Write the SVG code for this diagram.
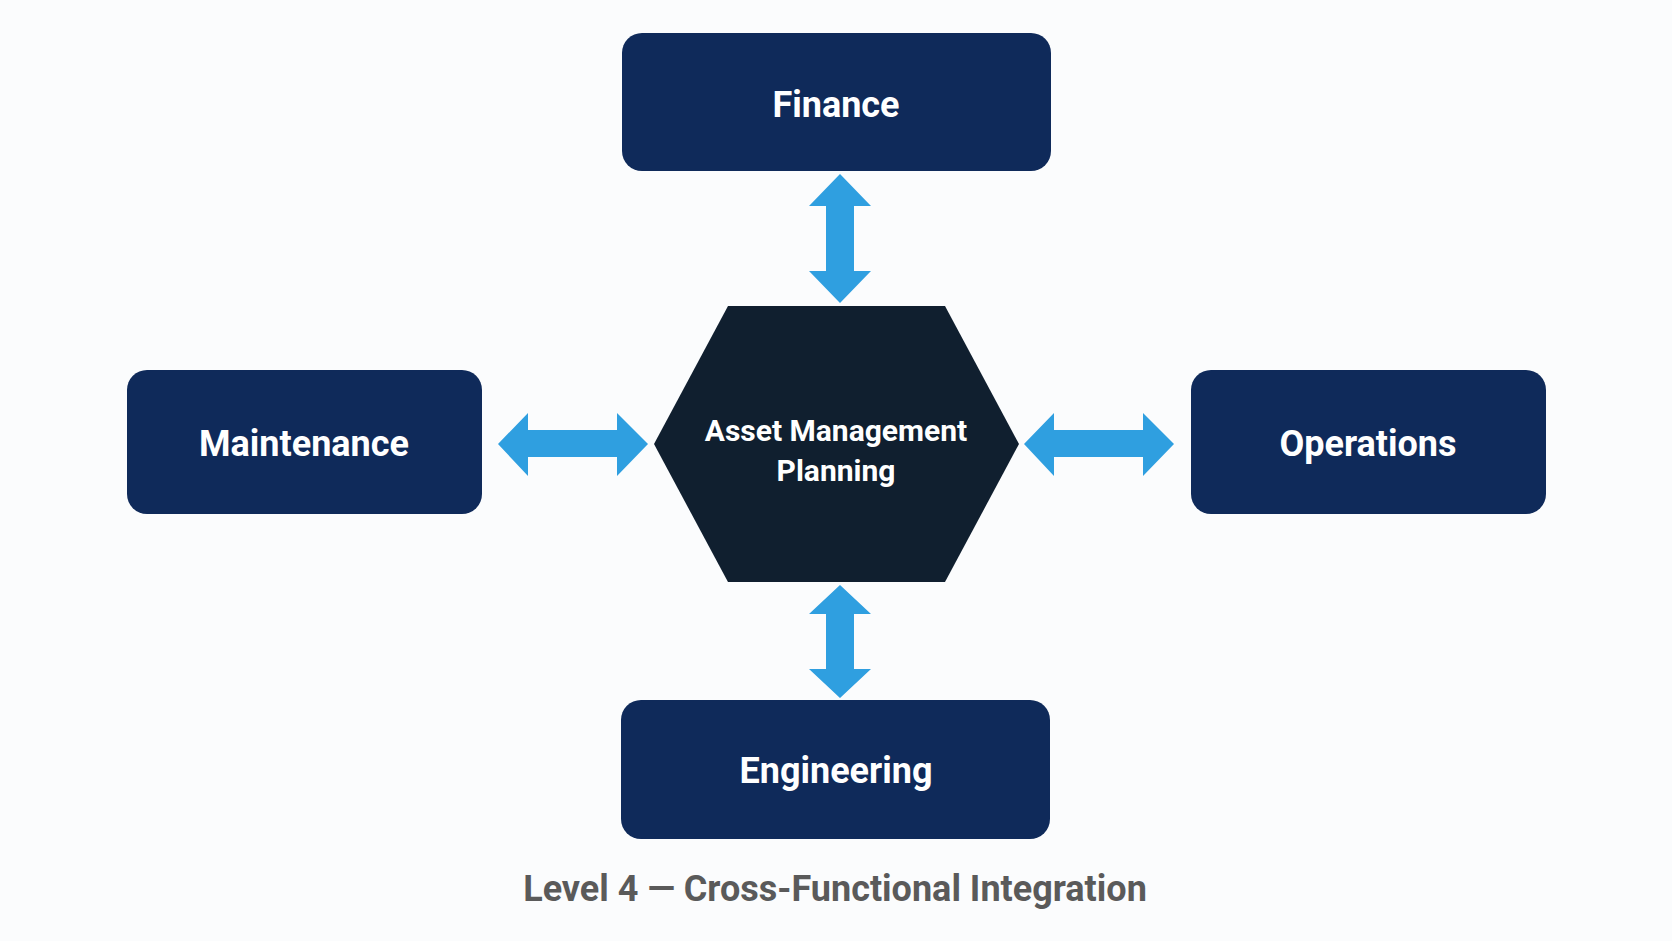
<svg xmlns="http://www.w3.org/2000/svg" width="1672" height="941" viewBox="0 0 1672 941">
<defs>
<style>
.box{fill:#0f2a5a;}
.hex{fill:#101f2f;}
.arr{fill:#2f9fe0;}
.lbl{font-family:Roboto,"Liberation Sans",sans-serif;font-weight:700;fill:#ffffff;text-anchor:middle;}
.big{font-size:36px;}
.mid{font-size:30px;}
.cap{font-family:Roboto,"Liberation Sans",sans-serif;font-weight:700;font-size:36px;fill:#5a5a5a;text-anchor:middle;}
</style>
</defs>
<rect width="1672" height="941" fill="#fbfcfd"/>
<g id="connectors">
<polygon class="arr" points="840,174 871,206 854,206 854,271 871,271 840,303 809,271 826,271 826,206 809,206"/>
<polygon class="arr" points="840,585 871,614 854,614 854,669 871,669 840,698 809,669 826,669 826,614 809,614"/>
<polygon class="arr" points="498,444 528,413 528,430 617,430 617,413 648,444 617,476 617,457 528,457 528,476"/>
<polygon class="arr" points="1024,444 1054,413 1054,430 1143,430 1143,413 1174,444 1143,476 1143,457 1054,457 1054,476"/>
</g>
<g id="finance">
<rect class="box" x="622" y="33" width="429" height="138" rx="20"/>
<text class="lbl big" x="836" y="117">Finance</text>
</g>
<g id="maintenance">
<rect class="box" x="127" y="370" width="355" height="144" rx="20"/>
<text class="lbl big" x="304" y="456">Maintenance</text>
</g>
<g id="operations">
<rect class="box" x="1191" y="370" width="355" height="144" rx="20"/>
<text class="lbl big" x="1368" y="456">Operations</text>
</g>
<g id="engineering">
<rect class="box" x="621" y="700" width="429" height="139" rx="20"/>
<text class="lbl big" x="836" y="783">Engineering</text>
</g>
<g id="asset-management-planning">
<polygon class="hex" points="728,306 945,306 1019,444 945,582 728,582 654,444"/>
<text class="lbl mid" x="836" y="441">Asset Management</text>
<text class="lbl mid" x="836" y="481">Planning</text>
</g>
<text class="cap" x="835" y="901">Level 4 — Cross-Functional Integration</text>
</svg>
